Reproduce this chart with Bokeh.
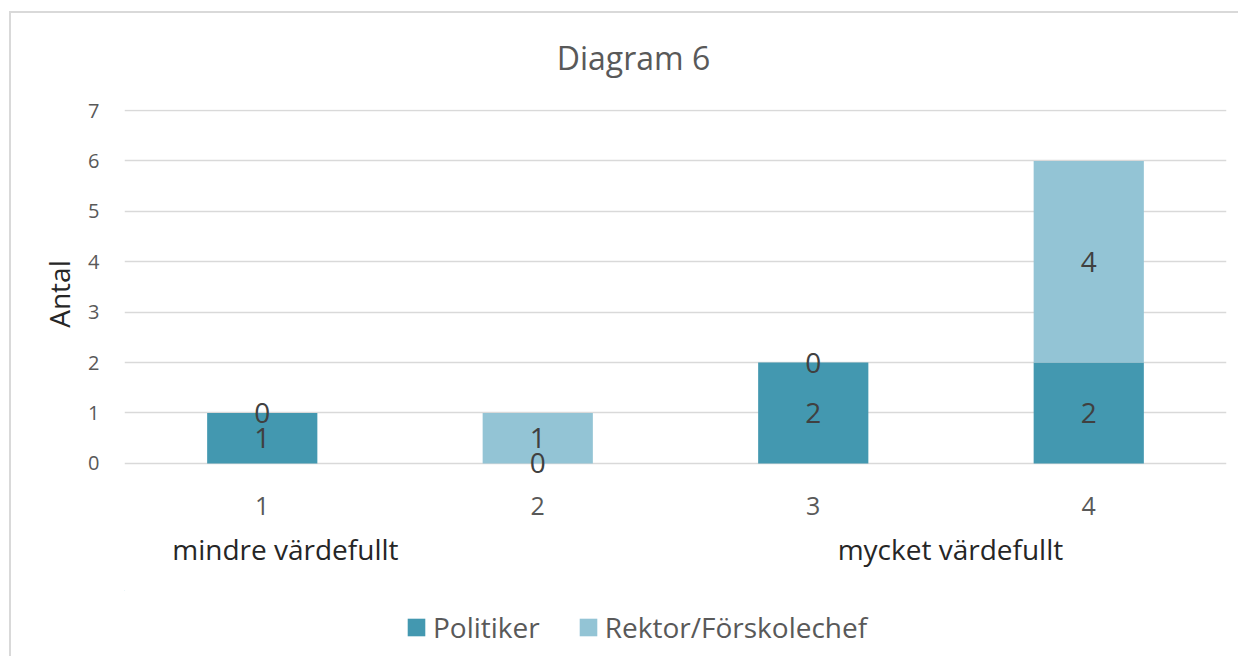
from bokeh.plotting import figure
from bokeh.layouts import column
from bokeh.models import (Range1d, FixedTicker, ColumnDataSource, LabelSet, Label,
                          Legend, LegendItem, LinearAxis)
from bokeh.core.properties import value
from bokeh.embed import file_html
from bokeh.resources import INLINE

# ---- data ----
categories = [1, 2, 3, 4]
tick_labels = ["1", "2", "3", "4"]
series_names = ["Politiker", "Rektor/Förskolechef"]
politiker = [1, 0, 2, 2]
rektor = [0, 1, 0, 4]
colors = ["#4398B0", "#93C4D5"]
title_text = "Diagram 6"
y_axis_title = "Antal"
scale_labels = ["mindre värdefullt", "mycket värdefullt"]
scale_label_pos = [1.084, 3.498]

FONT = "Open Sans"
GRAY = "#595959"
LINE = "#d9d9d9"
W = 1238
LEFT, RIGHT = 124, 12
H_TITLE, H_MAIN, H_LEG = 95, 495, 66


def strip(height, y0):
    f = figure(width=W, height=height, output_backend="svg", toolbar_location=None,
               x_axis_type=None, y_axis_type=None,
               x_range=Range1d(LEFT, W - RIGHT), y_range=Range1d(y0 + height, y0),
               min_border_left=LEFT, min_border_right=RIGHT, min_border_top=0,
               min_border_bottom=0)
    f.outline_line_color = None
    f.background_fill_color = None
    f.border_fill_color = None
    return f


# ---------------- title strip ----------------
p0 = strip(H_TITLE, 0)
p0.add_layout(Label(x=633, y=57, text=title_text, text_align="center",
                    text_baseline="middle", text_font=FONT, text_font_size="32px",
                    text_color=GRAY))

# ---------------- main chart ----------------
p = figure(width=W, height=H_MAIN, output_backend="svg", toolbar_location=None,
           x_range=Range1d(0.5, 4.5), y_range=Range1d(-0.3, 7.02),
           min_border_left=LEFT, min_border_right=RIGHT, min_border_top=109 - H_TITLE,
           min_border_bottom=112)
p.outline_line_color = None
p.background_fill_color = "white"
p.border_fill_color = None

src = ColumnDataSource(dict(x=categories, Politiker=politiker, Rektor=rektor))
rs = p.vbar_stack(["Politiker", "Rektor"], x="x", width=0.4, color=colors,
                  line_color=None, source=src)

p.xaxis.ticker = FixedTicker(ticks=categories)
p.xaxis.major_label_overrides = {c: t for c, t in zip(categories, tick_labels)}
p.xaxis.axis_line_color = None
p.xaxis.major_tick_line_color = None
p.xaxis.minor_tick_line_color = None
p.xaxis.major_label_text_font = FONT
p.xaxis.major_label_text_font_size = "25px"
p.xaxis.major_label_text_color = GRAY
p.xaxis.major_label_standoff = 12

sub_axis = LinearAxis(ticker=FixedTicker(ticks=scale_label_pos),
                      major_label_overrides={pos: t for pos, t in zip(scale_label_pos, scale_labels)},
                      axis_line_color=None, major_tick_line_color=None,
                      minor_tick_line_color=None, major_label_text_font=FONT,
                      major_label_text_font_size="28px", major_label_text_color="#262626",
                      major_label_standoff=6)
p.add_layout(sub_axis, "below")

p.yaxis.ticker = FixedTicker(ticks=list(range(0, 8)))
p.yaxis.axis_line_color = None
p.yaxis.major_tick_line_color = None
p.yaxis.minor_tick_line_color = None
p.yaxis.major_label_text_font = FONT
p.yaxis.major_label_text_font_size = "20px"
p.yaxis.major_label_text_color = GRAY
p.yaxis.major_label_standoff = 19
p.yaxis.axis_label = y_axis_title
p.yaxis.axis_label_text_font = FONT
p.yaxis.axis_label_text_font_size = "28px"
p.yaxis.axis_label_text_font_style = "normal"
p.yaxis.axis_label_text_color = "#262626"
p.yaxis.axis_label_standoff = 7

p.xgrid.grid_line_color = None
p.ygrid.grid_line_color = LINE
p.ygrid.grid_line_width = 1.5

lx, ly, lt = [], [], []
for c, a, b in zip(categories, politiker, rektor):
    lx += [c, c]
    ly += [a / 2, a + b / 2]
    lt += [str(a), str(b)]
lsrc = ColumnDataSource(dict(x=lx, y=ly, t=lt))
p.add_layout(LabelSet(x="x", y="y", text="t", source=lsrc, text_align="center",
                      text_baseline="middle", text_font=value(FONT),
                      text_font_size=value("28px"), text_color=value("#404040")))

# ---------------- legend strip ----------------
p2 = strip(H_LEG, H_TITLE + H_MAIN)
leg_src = ColumnDataSource(dict(x=[-1000.0], top=[-1000.0]))
leg_rs = [p2.vbar(x="x", top="top", width=1, color=c, line_color=None, source=leg_src)
          for c in colors]
legend = Legend(items=[LegendItem(label=n, renderers=[r]) for n, r in zip(series_names, leg_rs)],
                orientation="horizontal", location=(281, 10),
                border_line_color=None, background_fill_alpha=0, padding=0, margin=0,
                glyph_width=22, glyph_height=22, label_standoff=6, spacing=37,
                label_text_font=FONT, label_text_font_size="28px",
                label_text_color=GRAY)
p2.add_layout(legend)

layout = column(p0, p, p2, spacing=0, styles={
    "background-color": "white",
    "background-image": f"linear-gradient({LINE},{LINE}), linear-gradient({LINE},{LINE})",
    "background-size": "2px 100%, 100% 2px",
    "background-position": "9px 11px, 9px 11px",
    "background-repeat": "no-repeat",
})
open("out.html", "w").write(file_html(layout, INLINE))
